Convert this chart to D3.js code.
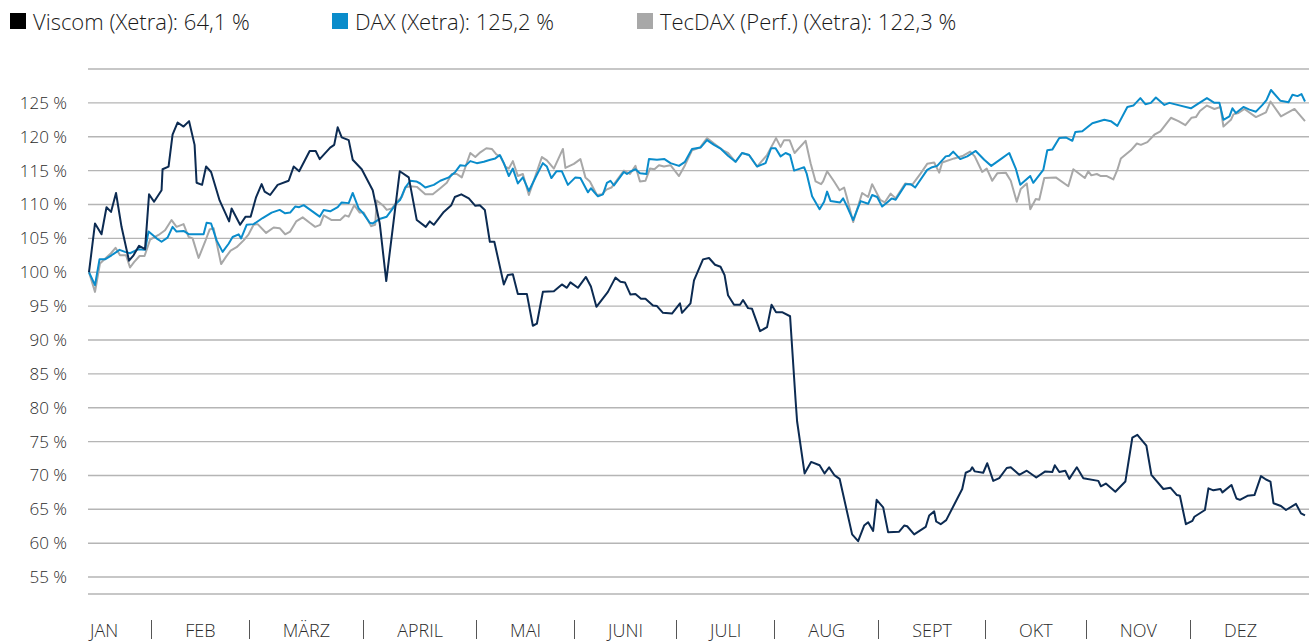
<!DOCTYPE html>
<html>
<head>
<meta charset="utf-8">
<script src="https://cdn.jsdelivr.net/npm/d3@7"></script>
<style>
  body { margin: 0; background: #fff; }
  svg { display: block; font-family: 'Open Sans', sans-serif; font-weight: 300; }
</style>
</head>
<body>
<div id="chart"></div>
<script>
// trading-day position (0 = start of year) and performance in %
const viscomDays = [0, 1.2, 2.5, 3.5, 4.4, 5.4, 6.5, 8.0, 8.9, 10.0, 11.2, 12.0, 13.0, 14.5, 14.7, 15.9, 16.7, 17.7, 18.9, 20.0,
	21.1, 21.5, 22.6, 23.4, 24.4, 26.1, 28.0, 28.5, 30.2, 31.3, 32.3, 33.4, 34.5, 35.1, 36.2, 37.7, 39.9, 40.9, 42.0, 44.1,
	45.3, 46.1, 48.2, 49.0, 49.7, 50.5, 51.9, 52.7, 54.5, 56.7, 58.1, 59.4, 62.1, 63.9, 65.5, 67.3, 68.1, 68.9, 70.9, 72.4,
	73.1, 74.4, 75.9, 77.2, 78.1, 79.1, 80.1, 81.0, 82.9, 83.7, 84.7, 85.7, 87.5, 88.7, 89.5, 90.7, 92.9, 94.5, 95.5, 96.2,
	97.7, 99.3, 100.3, 101.4, 103.7, 105.2, 106.2, 107.1, 108.2, 109.2, 110.3, 111.2, 112.7, 113.5, 114.7, 116.5, 118.1, 118.5, 120.2, 120.9,
	122.7, 123.9, 125.1, 126.2, 127.0, 127.7, 128.9, 130.1, 130.7, 131.7, 132.5, 134.1, 135.5, 136.4, 137.3, 138.5, 140.1, 141.2, 141.5, 143.0,
	144.3, 146.0, 147.0, 147.9, 149.0, 150.0, 152.5, 153.7, 154.9, 155.7, 156.7, 157.4, 158.7, 159.7, 161.9, 162.9, 163.5, 164.9, 167.2, 167.9,
	168.9, 169.3, 170.2, 171.3, 174.5, 175.2, 176.1, 176.5, 177.0, 178.7, 179.5, 180.7, 181.9, 183.4, 184.2, 185.9, 187.4, 189.3, 191.1, 192.5,
	193.0, 193.9, 195.1, 195.9, 197.4, 198.7, 201.7, 202.2, 203.2, 205.1, 207.1, 208.5, 209.5, 211.3, 212.3, 214.7, 216.1, 217.4, 218.0, 219.2,
	220.5, 220.9, 223.0, 223.7, 224.7, 226.1, 226.5, 228.3, 229.3, 230.0, 231.5, 232.9, 234.2, 235.2, 236.1, 236.7, 238.2, 239.2, 241.2, 242.2, 243];
const viscomValues = [100, 107.2, 105.6, 109.6, 108.9, 111.7, 106.7, 101.7, 102.5, 103.9, 103.4, 111.5, 110.4, 112.1, 115.2, 115.6, 120.3, 122.1, 121.5, 122.3,
	118.8, 113.2, 112.9, 115.6, 114.8, 110.6, 107.5, 109.4, 107.0, 108.2, 108.2, 111.1, 113.0, 111.9, 111.4, 112.9, 113.5, 115.6, 114.9, 117.9,
	117.9, 116.7, 118.4, 118.8, 121.4, 119.9, 119.5, 116.6, 115.2, 112.1, 107.2, 98.7, 114.9, 114.0, 107.7, 106.7, 107.5, 107.0, 108.9, 109.9,
	111.1, 111.5, 110.9, 109.8, 109.9, 109.2, 104.5, 104.5, 98.2, 99.6, 99.7, 96.8, 96.8, 92.1, 92.4, 97.1, 97.2, 98.2, 97.7, 98.5,
	97.7, 99.3, 97.9, 94.9, 97.1, 99.2, 98.6, 98.5, 96.7, 96.8, 96.1, 96.1, 95.1, 95.0, 94.0, 93.9, 95.4, 94.0, 95.4, 98.8,
	101.9, 102.1, 101.1, 100.8, 99.6, 96.6, 95.2, 95.2, 95.9, 94.7, 94.6, 91.3, 91.9, 95.2, 94.1, 94.1, 93.5, 81.1, 78.0, 70.3,
	72.0, 71.5, 70.3, 71.2, 70.0, 69.5, 61.3, 60.3, 62.6, 63.1, 61.8, 66.4, 65.3, 61.6, 61.7, 62.6, 62.5, 61.3, 62.4, 64.1,
	64.7, 63.2, 62.8, 63.4, 68.0, 70.4, 70.7, 71.2, 70.6, 70.4, 71.8, 69.2, 69.6, 71.1, 71.2, 70.1, 70.7, 69.7, 70.6, 70.5,
	71.5, 70.5, 70.7, 69.5, 71.2, 69.6, 69.2, 68.4, 68.8, 67.6, 69.1, 75.6, 76.0, 74.4, 70.1, 68.0, 68.2, 67.1, 67.0, 62.8,
	63.3, 63.9, 64.9, 68.1, 67.8, 68.0, 67.5, 68.6, 66.6, 66.4, 67.0, 67.1, 69.9, 69.4, 69.1, 65.9, 65.5, 64.9, 65.8, 64.4, 64.1];

const daxDays = [0, 1.2, 2.1, 3.2, 4.5, 6.1, 7.2, 8.2, 9.9, 11.2, 11.9, 13.5, 14.5, 15.7, 16.7, 17.5, 18.9, 20.0, 22.9, 23.5,
	24.4, 25.5, 26.7, 27.9, 28.7, 29.9, 30.4, 31.5, 32.9, 34.7, 36.5, 38.1, 39.2, 40.2, 41.2, 42.0, 42.9, 46.1, 46.9, 48.2,
	49.7, 50.5, 51.9, 52.7, 53.9, 54.7, 56.1, 56.7, 58.2, 59.5, 60.5, 61.5, 62.2, 63.2, 64.2, 65.4, 66.2, 67.2, 68.9, 70.2,
	71.9, 73.2, 74.2, 75.2, 76.2, 77.5, 78.9, 80.2, 81.2, 82.1, 82.9, 83.9, 84.7, 85.7, 86.7, 87.9, 89.3, 90.7, 91.5, 92.4,
	93.4, 94.5, 95.7, 97.2, 98.2, 99.7, 100.3, 101.7, 102.7, 103.5, 104.2, 104.9, 106.9, 107.5, 108.3, 109.2, 110.1, 111.4, 111.9, 113.5,
	115.0, 116.2, 117.9, 119.1, 120.5, 122.2, 123.5, 124.9, 126.3, 127.7, 129.2, 130.5, 131.9, 133.5, 135.2, 136.3, 137.2, 138.2, 139.2, 140.1,
	140.9, 142.1, 142.9, 143.4, 144.5, 146.0, 146.9, 147.5, 148.2, 150.1, 150.7, 151.5, 152.7, 154.2, 155.7, 156.5, 157.5, 158.5, 159.5, 160.4,
	161.2, 163.2, 164.2, 165.1, 167.5, 168.5, 169.5, 171.2, 171.9, 172.7, 174.1, 175.5, 177.2, 178.9, 180.3, 182.2, 183.9, 185.2, 186.1, 188.1,
	188.7, 190.7, 191.5, 192.5, 193.9, 195.2, 196.5, 197.1, 198.5, 200.5, 202.9, 204.2, 205.5, 207.5, 208.7, 210.1, 211.1, 212.2, 213.2, 214.9,
	215.9, 217.5, 220.2, 221.9, 223.4, 224.9, 225.9, 226.7, 227.9, 228.5, 229.2, 230.7, 231.9, 233.2, 234.5, 235.3, 236.2, 238.1, 239.7, 240.5,
	241.5, 242.3, 243];
const daxValues = [100, 98.1, 101.9, 101.9, 102.5, 103.3, 103.0, 102.8, 103.4, 103.3, 106.0, 105.0, 104.5, 105.1, 106.7, 106.0, 106.1, 105.6, 105.6, 107.3,
	107.2, 104.7, 103.0, 104.2, 105.2, 105.6, 105.0, 107.0, 107.1, 108.0, 108.8, 109.2, 108.7, 108.8, 109.7, 109.6, 109.9, 108.2, 109.2, 109.0,
	109.6, 110.3, 110.2, 111.7, 109.4, 108.8, 107.3, 107.2, 107.9, 108.2, 109.2, 110.2, 110.7, 112.5, 113.5, 113.4, 113.1, 112.5, 112.9, 113.5,
	114.0, 114.8, 115.8, 115.7, 116.4, 116.1, 116.3, 116.6, 116.8, 117.3, 116.1, 114.2, 115.3, 113.1, 114.0, 112.0, 114.1, 116.1, 115.6, 113.9,
	114.9, 114.9, 112.9, 114.0, 113.9, 111.8, 112.4, 111.2, 111.5, 113.2, 113.5, 112.8, 114.8, 114.5, 114.9, 115.2, 114.6, 114.5, 116.7, 116.6,
	116.7, 116.1, 115.7, 116.3, 118.2, 118.4, 119.5, 118.8, 118.2, 117.2, 116.3, 117.6, 117.3, 115.6, 116.1, 118.3, 118.3, 117.1, 117.6, 117.3,
	115.0, 115.3, 115.5, 114.6, 111.2, 109.3, 110.4, 111.9, 110.5, 110.3, 110.9, 109.7, 107.7, 110.5, 110.1, 111.4, 111.1, 109.7, 110.3, 110.9,
	110.7, 113.0, 113.0, 112.5, 115.1, 115.5, 115.7, 117.1, 117.2, 117.8, 116.7, 117.1, 117.9, 116.6, 115.7, 116.7, 117.6, 115.3, 112.9, 114.2,
	113.2, 115.1, 118.0, 118.1, 119.8, 119.9, 119.4, 120.7, 120.8, 122.0, 122.5, 122.3, 121.6, 124.4, 124.6, 125.7, 124.8, 125.0, 125.8, 124.7,
	125.0, 124.7, 124.2, 125.0, 125.7, 125.0, 125.0, 122.5, 123.0, 124.2, 123.5, 124.4, 124.0, 123.7, 124.7, 125.4, 126.9, 125.3, 125.1, 126.2,
	126.0, 126.3, 125.2];

const tecdaxDays = [0, 1.2, 2.2, 3.2, 4.4, 5.3, 6.2, 7.4, 8.2, 9.0, 10.1, 11.1, 12.2, 13.9, 15.2, 16.5, 17.5, 18.9, 19.9, 20.7,
	21.9, 23.2, 24.1, 24.9, 26.4, 27.4, 28.3, 29.5, 30.9, 31.9, 32.9, 33.7, 35.4, 36.9, 38.1, 39.2, 40.2, 41.4, 42.7, 44.1,
	45.2, 46.2, 46.9, 48.5, 50.2, 51.2, 51.9, 53.0, 54.1, 54.9, 56.4, 57.2, 57.5, 58.7, 59.5, 60.5, 61.5, 62.5, 63.2, 64.2,
	65.5, 67.2, 68.7, 70.2, 71.5, 72.5, 73.5, 74.5, 76.2, 77.2, 78.2, 79.4, 80.5, 81.4, 82.2, 83.2, 83.9, 84.7, 85.7, 86.7,
	87.9, 89.2, 90.5, 91.5, 92.9, 94.7, 95.2, 96.9, 98.2, 99.2, 100.1, 101.5, 102.5, 103.4, 104.4, 105.5, 106.9, 108.1, 109.2, 110.1,
	111.2, 112.1, 113.0, 113.9, 114.9, 116.2, 117.9, 119.1, 120.5, 122.1, 123.5, 124.9, 126.9, 127.7, 129.2, 130.5, 131.9, 133.5, 135.5, 137.3,
	138.2, 138.9, 140.0, 141.0, 143.2, 144.2, 145.2, 146.3, 146.7, 147.5, 148.9, 150.0, 150.9, 151.5, 152.7, 154.5, 155.7, 156.5, 158.1, 159.0,
	160.2, 161.2, 163.1, 164.5, 166.2, 167.5, 168.9, 169.9, 170.5, 172.9, 174.7, 176.1, 177.0, 178.5, 179.4, 180.5, 181.5, 183.2, 184.2, 185.4,
	186.2, 187.4, 188.1, 189.2, 189.9, 190.9, 193.2, 195.7, 196.7, 199.0, 199.7, 200.3, 201.4, 202.2, 203.4, 204.7, 205.5, 206.2, 208.2, 209.4,
	210.2, 211.5, 212.9, 214.1, 216.2, 217.7, 219.1, 220.3, 221.2, 222.0, 223.4, 224.9, 226.1, 226.7, 228.2, 228.7, 229.7, 230.9, 233.2, 235.2,
	236.1, 238.2, 240.9, 243];
const tecdaxValues = [100, 97.1, 101.3, 102.0, 102.8, 103.6, 102.5, 102.5, 100.7, 101.5, 102.4, 102.4, 104.8, 105.5, 106.2, 107.7, 106.7, 107.1, 105.2, 105.0,
	102.1, 104.5, 106.3, 106.5, 101.2, 102.3, 103.2, 103.7, 104.7, 105.6, 107.0, 107.1, 105.8, 106.6, 106.5, 105.6, 106.0, 107.5, 108.1, 107.3,
	106.7, 107.0, 108.4, 107.7, 107.7, 108.4, 108.2, 109.9, 108.8, 108.8, 106.8, 107.0, 110.6, 109.9, 109.2, 109.4, 110.4, 111.1, 112.5, 112.7,
	112.6, 111.5, 111.5, 112.4, 113.2, 114.5, 114.5, 114.0, 117.6, 117.0, 117.7, 118.3, 118.2, 117.4, 117.1, 115.6, 115.3, 116.4, 114.2, 114.5,
	111.4, 114.2, 117.0, 116.5, 115.3, 118.2, 115.4, 116.0, 116.7, 114.0, 113.4, 111.4, 111.5, 112.2, 112.5, 113.6, 115.0, 114.5, 115.7, 113.4,
	113.5, 115.3, 115.2, 115.8, 115.6, 115.8, 114.2, 115.8, 118.0, 118.4, 119.8, 119.0, 117.9, 117.6, 116.3, 117.6, 117.3, 115.6, 117.3, 119.8,
	118.5, 119.5, 119.5, 117.6, 119.4, 116.1, 113.4, 113.0, 113.4, 114.9, 113.4, 112.1, 112.5, 110.9, 107.4, 111.7, 111.1, 113.0, 110.7, 110.3,
	111.6, 110.9, 113.1, 112.9, 114.6, 116.0, 116.2, 114.7, 116.2, 116.8, 117.2, 117.8, 117.1, 114.8, 115.3, 113.5, 114.6, 114.7, 113.5, 110.4,
	112.3, 113.1, 109.3, 110.8, 110.7, 113.9, 114.0, 112.7, 115.2, 113.9, 114.9, 114.3, 114.5, 114.2, 114.2, 113.7, 115.1, 116.8, 118.0, 119.0,
	118.8, 119.2, 120.3, 120.8, 122.8, 122.3, 121.7, 122.8, 122.9, 123.8, 124.6, 124.1, 124.4, 121.5, 122.5, 123.3, 123.5, 124.1, 122.9, 123.6,
	125.2, 123.0, 124.1, 122.3];

const yTicks = [55, 60, 65, 70, 75, 80, 85, 90, 95, 100, 105, 110, 115, 120, 125];
const gridValues = [55, 60, 65, 70, 75, 80, 85, 90, 95, 100, 105, 110, 115, 120, 125, 130];
const months = ['JAN', 'FEB', 'MÄRZ', 'APRIL', 'MAI', 'JUNI', 'JULI', 'AUG', 'SEPT', 'OKT', 'NOV', 'DEZ'];

const legendNames = ['Viscom (Xetra): 64,1 %', 'DAX (Xetra): 125,2 %', 'TecDAX (Perf.) (Xetra): 122,3 %'];
const legendColors = ['#000000', '#0a8ccb', '#a8a8a8'];

const width = 1309;
const height = 641;
const margin = { top: 69, right: 4, bottom: 47, left: 89 };

const svg = d3.select('#chart')
	.append('svg')
	.attr('width', width)
	.attr('height', height);

const x = d3.scaleLinear()
	.domain([0, 243])
	.range([margin.left, width - margin.right]);

const y = d3.scaleLinear()
	.domain([52.5, 130])
	.range([height - margin.bottom, margin.top]);

// gridlines + bottom line
svg.append('g')
	.selectAll('line')
	.data(gridValues.concat([52.5]))
	.join('line')
	.attr('x1', margin.left - 1)
	.attr('x2', width)
	.attr('y1', d => y(d))
	.attr('y2', d => y(d))
	.attr('stroke', '#b5b5b5')
	.attr('stroke-width', 1.4);

// y axis labels
const yAxis = d3.axisLeft(y)
	.tickValues(yTicks)
	.tickSize(0)
	.tickPadding(0)
	.tickFormat(d => d + ' %');

svg.append('g')
	.attr('transform', 'translate(67,0)')
	.call(yAxis)
	.call(g => g.select('.domain').remove())
	.call(g => g.selectAll('text')
		.attr('font-family', "'Open Sans', sans-serif")
		.attr('font-weight', 300)
		.attr('font-size', 17)
		.attr('fill', '#2b2b2b'));

// lines
const line = d3.line()
	.x(d => x(d[0]))
	.y(d => y(d[1]));

const series = [
	{ key: 'tecdax', days: tecdaxDays, values: tecdaxValues, color: '#a8a8a8' },
	{ key: 'dax', days: daxDays, values: daxValues, color: '#0a8ccb' },
	{ key: 'viscom', days: viscomDays, values: viscomValues, color: '#0c2b52' },
];

svg.append('g')
	.selectAll('path')
	.data(series)
	.join('path')
	.attr('fill', 'none')
	.attr('stroke', d => d.color)
	.attr('stroke-width', 2)
	.attr('stroke-linejoin', 'round')
	.attr('d', d => line(d.days.map((t, i) => [t, d.values[i]])));

// month labels separated by bars, spread over the text line
const monthG = svg.append('g')
	.attr('font-size', 18)
	.attr('fill', '#2b2b2b');

const labels = months.map(m => monthG.append('text').attr('y', 637).text(m));
const textW = labels.reduce((s, t) => s + t.node().getComputedTextLength(), 0);
const lineStart = 90;
const lineEnd = 1257;
const gap = (lineEnd - lineStart - textW - (months.length - 1)) / ((months.length - 1) * 2);

let cursor = lineStart;
labels.forEach((t, i) => {
	t.attr('x', cursor);
	cursor += t.node().getComputedTextLength() + gap;
	if (i < labels.length - 1) {
		monthG.append('line')
			.attr('x1', Math.round(cursor) + 0.5)
			.attr('x2', Math.round(cursor) + 0.5)
			.attr('y1', 620)
			.attr('y2', 639)
			.attr('stroke', '#555')
			.attr('stroke-width', 1);
		cursor += 1 + gap;
	}
});

// legend
const legendX = [10, 332, 637];
const legend = svg.append('g')
	.selectAll('g')
	.data(legendNames)
	.join('g')
	.attr('transform', (d, i) => `translate(${legendX[i]},13)`);

legend.append('rect')
	.attr('width', 16)
	.attr('height', 16)
	.attr('fill', (d, i) => legendColors[i]);

legend.append('text')
	.attr('x', 23)
	.attr('y', 17)
	.attr('font-size', 22)
	.attr('fill', '#1a1a1a')
	.text(d => d);
</script>
</body>
</html>
